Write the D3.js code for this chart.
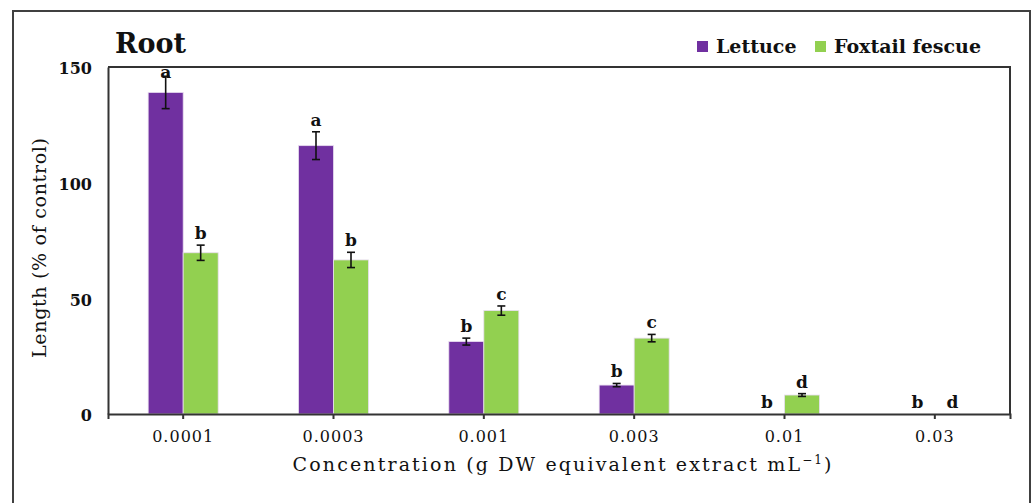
<!DOCTYPE html>
<html>
<head>
<meta charset="utf-8">
<script src="https://d3js.org/d3.v7.min.js"></script>
<style>
  body { margin: 0; background: #fff; }
  svg text { font-family: "DejaVu Serif", "Liberation Serif", serif; fill: #111; }
  .axis path, .axis line { stroke: #333; stroke-width: 2; }
  .axis text { font-size: 16px; }
</style>
</head>
<body>
<svg id="chart" width="1033" height="503"></svg>
<script>
// data
var concentrations = ["0.0001", "0.0003", "0.001", "0.003", "0.01", "0.03"];
var seriesNames = ["Lettuce", "Foxtail fescue"];
var lettuce = [139, 116, 31.3, 12.5, 0, 0];
var lettuceErr = [7, 6, 1.5, 0.7, 0, 0];
var lettuceLetters = ["a", "a", "b", "b", "b", "b"];
var fescue = [69.7, 66.6, 44.7, 32.8, 8.2, 0];
var fescueErr = [3.3, 3.3, 2, 1.6, 0.6, 0];
var fescueLetters = ["b", "b", "c", "c", "d", "d"];
var yTicks = [0, 50, 100, 150];

var colors = ["#7030A0", "#92D050"];

var svg = d3.select("#chart");
var margin = {left: 108, right: 1010, top: 67, bottom: 414};

// outer frame
svg.append("rect")
   .attr("x", 13).attr("y", 11)
   .attr("width", 1017).attr("height", 510)
   .attr("fill", "none").attr("stroke", "#404040").attr("stroke-width", 2);

var x = d3.scaleBand().domain(concentrations).range([margin.left, margin.right]);
var y = d3.scaleLinear().domain([0, 150]).range([margin.bottom, margin.top]);
var barW = 35;

// plot frame (top and right)
svg.append("path")
   .attr("d", "M" + margin.left + "," + margin.top + "H" + margin.right + "V" + margin.bottom)
   .attr("fill", "none").attr("stroke", "#333").attr("stroke-width", 2);

var rows = concentrations.map(function(c, i){
	return [
		{c: c, s: 0, v: lettuce[i], e: lettuceErr[i], l: lettuceLetters[i]},
		{c: c, s: 1, v: fescue[i], e: fescueErr[i], l: fescueLetters[i]}
	];
});
var flat = d3.merge(rows);

function bx(d){ return x(d.c) + x.bandwidth()/2 + (d.s - 1) * barW; }

svg.append("g").attr("class", "bars")
   .selectAll("rect").data(flat.filter(function(d){ return d.v > 0; }))
   .enter().append("rect")
   .attr("x", bx)
   .attr("y", function(d){ return y(d.v); })
   .attr("width", barW)
   .attr("height", function(d){ return y(0) - y(d.v); })
   .attr("fill", function(d){ return colors[d.s]; })
   .attr("stroke", "#e8dcf0").attr("stroke-width", 0.8);

// error bars
var eb = svg.append("g").attr("class", "errors")
   .selectAll("g").data(flat.filter(function(d){ return d.e > 0; }))
   .enter().append("g")
   .attr("stroke", "#111").attr("stroke-width", 1.6);
eb.append("line")
  .attr("x1", function(d){ return bx(d) + barW/2; })
  .attr("x2", function(d){ return bx(d) + barW/2; })
  .attr("y1", function(d){ return y(d.v + d.e); })
  .attr("y2", function(d){ return y(d.v - d.e); });
eb.selectAll(".cap").data(function(d){ return [[d, d.v + d.e], [d, d.v - d.e]]; })
  .enter().append("line").attr("class", "cap")
  .attr("x1", function(p){ return bx(p[0]) + barW/2 - 4; })
  .attr("x2", function(p){ return bx(p[0]) + barW/2 + 4; })
  .attr("y1", function(p){ return y(p[1]); })
  .attr("y2", function(p){ return y(p[1]); });

// significance letters (kept inside the plot box)
svg.append("g").attr("class", "letters")
   .selectAll("text").data(flat)
   .enter().append("text")
   .attr("x", function(d){ return bx(d) + barW/2; })
   .attr("y", function(d){ return Math.max(y(d.v + d.e) - 6, margin.top + 11); })
   .attr("text-anchor", "middle")
   .style("font-size", "17px").style("font-weight", "bold")
   .text(function(d){ return d.l; });

// axes
var xAx = svg.append("g").attr("class", "axis axis-x")
   .attr("transform", "translate(0," + margin.bottom + ")")
   .call(d3.axisBottom(x).tickSizeInner(5).tickSizeOuter(5).tickPadding(9));
xAx.selectAll("text").attr("dy", "0.85em").style("letter-spacing", "1px");

var yAx = svg.append("g").attr("class", "axis axis-y")
   .attr("transform", "translate(" + margin.left + ",0)")
   .call(d3.axisLeft(y).tickValues(yTicks).tickSize(0).tickPadding(16));
yAx.selectAll("text").style("font-weight", "bold").attr("dy", "0.42em");

// title
svg.append("text")
   .attr("x", 115).attr("y", 53)
   .style("font-size", "27px").style("font-weight", "bold")
   .text("Root");

// axis labels
svg.append("text")
   .attr("transform", "translate(46,248) rotate(-90)")
   .attr("text-anchor", "middle")
   .attr("textLength", 220).attr("lengthAdjust", "spacing")
   .style("font-size", "19px")
   .text("Length (% of control)");

var xl = svg.append("text")
   .attr("x", 562).attr("y", 471)
   .attr("text-anchor", "middle")
   .attr("textLength", 539).attr("lengthAdjust", "spacing")
   .style("font-size", "19px");
xl.append("tspan").text("Concentration (g DW equivalent extract mL");
xl.append("tspan").attr("dy", -7).style("font-size", "12px").text("\u22121");
xl.append("tspan").attr("dy", 7).text(")");

// legend
var leg = svg.append("g").attr("class", "legend")
   .selectAll("g").data(seriesNames).enter().append("g")
   .attr("transform", function(d, i){ return "translate(" + [697, 815][i] + ",41)"; });
leg.append("rect").attr("width", 11).attr("height", 11)
   .attr("fill", function(d, i){ return colors[i]; });
leg.append("text").attr("x", 19).attr("y", 12)
   .style("font-size", "19px").style("font-weight", "bold")
   .text(function(d){ return d; });
</script>
</body>
</html>
